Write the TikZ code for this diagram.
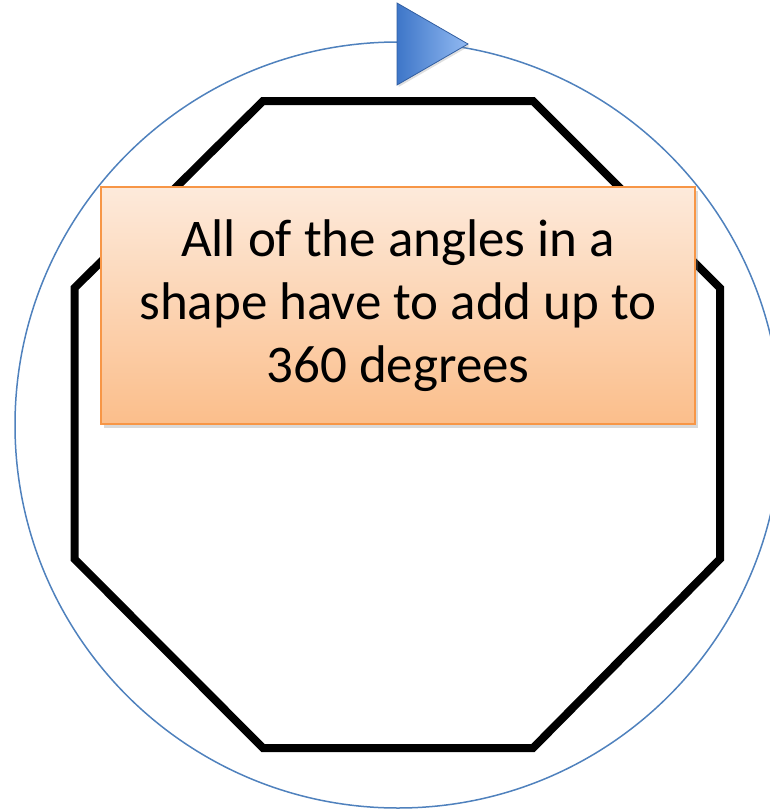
\documentclass[tikz,border=0pt]{standalone}
\usepackage{fontspec}
\setmainfont{Carlito}
\usepackage{tikz}
\usetikzlibrary{shadows}

\definecolor{ringblue}{RGB}{79,129,189}
\definecolor{arrowdark}{RGB}{62,118,200}
\definecolor{arrowlight}{RGB}{146,186,242}
\definecolor{noteborder}{RGB}{247,150,70}
\definecolor{notetop}{RGB}{253,234,219}
\definecolor{notebottom}{RGB}{251,190,139}

\begin{document}
\begin{tikzpicture}[x=1pt,y=-1pt]
\useasboundingbox (0,0) rectangle (770,811);
\clip (0,0) rectangle (770,811);
% ring with its arrow head
\node[circle,draw=ringblue,line width=1.5pt,minimum size=766pt,inner sep=0pt] (ring) at (398,425) {};
\coordinate (tiptop) at (397,3);
\coordinate (tipbottom) at (397,85);
\coordinate (tip) at (468,44);
\draw[draw=arrowdark!80!black,line width=0.8pt,left color=arrowdark,right color=arrowlight,drop shadow={shadow xshift=1.5pt,shadow yshift=-2pt,opacity=0.25}] (tiptop) -- (tip) -- (tipbottom) -- cycle;
% octagon
\draw[black,line width=8pt,line join=miter] (263,101) -- (533,101) -- (720,288) -- (720,559) -- (533,748) -- (263,748) -- (74.5,559) -- (74.5,288) -- cycle;
% note
\node[rectangle,draw=noteborder,line width=1.5pt,top color=notetop,bottom color=notebottom,minimum width=594pt,minimum height=237pt,inner sep=0pt,align=center,font=\fontsize{53}{63}\selectfont,drop shadow={shadow xshift=3pt,shadow yshift=-4pt,opacity=0.3}] (note) at (398,305.5) {All of the angles in a\\shape have to add up to\\360 degrees};
\end{tikzpicture}
\end{document}
